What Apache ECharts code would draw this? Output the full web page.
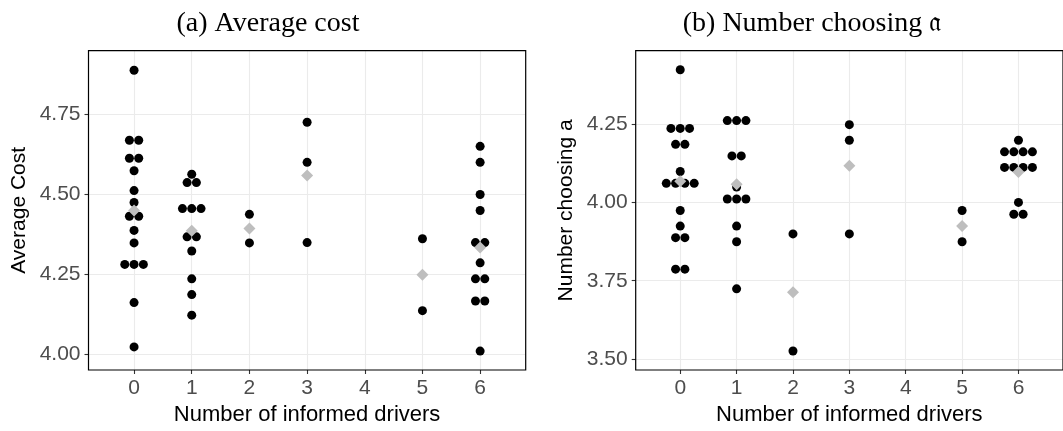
<!DOCTYPE html>
<html>
<head>
<meta charset="utf-8">
<script src="https://cdn.jsdelivr.net/npm/echarts@6/dist/echarts.min.js"></script>
<style>html,body{margin:0;padding:0;background:#fff}#c{width:1063px;height:431px}</style>
</head>
<body>
<div id="c"></div>
<script>
const categories = [0, 1, 2, 3, 5, 6];
const xTicks = [0, 1, 2, 3, 4, 5, 6];
const costTicks = [4.00, 4.25, 4.50, 4.75];
const chooseTicks = [3.50, 3.75, 4.00, 4.25];

const costDots = [
  [4.886, 4.668, 4.668, 4.612, 4.612, 4.573, 4.511, 4.474, 4.431, 4.431, 4.387, 4.348, 4.281, 4.281, 4.281, 4.162, 4.024],
  [4.562, 4.536, 4.536, 4.455, 4.455, 4.455, 4.367, 4.367, 4.323, 4.236, 4.187, 4.123],
  [4.437, 4.348],
  [4.724, 4.599, 4.349],
  [4.361, 4.137],
  [4.649, 4.599, 4.499, 4.449, 4.349, 4.349, 4.286, 4.236, 4.236, 4.167, 4.167, 4.011]
];
const costMeans = [4.449, 4.386, 4.393, 4.558, 4.249, 4.334];

const chooseDots = [
  [4.426, 4.238, 4.238, 4.238, 4.187, 4.187, 4.100, 4.062, 4.062, 4.062, 4.062, 3.975, 3.925, 3.888, 3.888, 3.787, 3.787],
  [4.263, 4.263, 4.263, 4.150, 4.150, 4.050, 4.012, 4.012, 4.012, 3.925, 3.875, 3.724],
  [3.900, 3.525],
  [4.250, 4.200, 3.900],
  [3.975, 3.875],
  [4.200, 4.163, 4.163, 4.163, 4.163, 4.113, 4.113, 4.113, 4.113, 4.001, 3.963, 3.963]
];
const chooseMeans = [4.069, 4.059, 3.713, 4.118, 3.925, 4.098];

const DOT_STEP = 9.3;
function dotItems(dots) {
  const out = [];
  dots.forEach((vals, ci) => {
    const counts = {};
    vals.forEach(v => { counts[v] = (counts[v] || 0) + 1; });
    const seen = {};
    vals.forEach(v => {
      const n = counts[v];
      const k = seen[v] || 0;
      seen[v] = k + 1;
      out.push({ value: [categories[ci], v], symbolOffset: [(k - (n - 1) / 2) * DOT_STEP, 0] });
    });
  });
  return out;
}
function meanItems(means) {
  return means.map((m, i) => [categories[i], m]);
}

const tickColor = '#4D4D4D';
const sans = '"Liberation Sans", Arial, sans-serif';
const serif = '"Liberation Serif", "DejaVu Serif", serif';

function xAxis(gi) {
  return {
    type: 'value', gridIndex: gi, min: -0.79, max: 6.79,
    name: 'Number of informed drivers', nameLocation: 'middle', nameGap: 34,
    nameTextStyle: { color: '#000', fontSize: 22, fontFamily: sans },
    axisLine: { show: false, onZero: false },
    axisTick: { show: true, length: 4, customValues: xTicks, lineStyle: { color: '#333', width: 1.1 } },
    axisLabel: { customValues: xTicks, color: tickColor, fontSize: 21, fontFamily: sans, margin: 8 },
    splitLine: { show: true, lineStyle: { color: '#EBEBEB', width: 1.1 } }
  };
}
function yAxis(gi, min, max, ticks, name) {
  return {
    type: 'value', gridIndex: gi, min: min, max: max,
    name: name, nameLocation: 'middle', nameGap: 59,
    nameTextStyle: { color: '#000', fontSize: 21, fontFamily: sans },
    axisLine: { show: false, onZero: false },
    axisTick: { show: true, length: 4, customValues: ticks, lineStyle: { color: '#333', width: 1.1 } },
    axisLabel: { customValues: ticks, color: tickColor, fontSize: 21, fontFamily: sans, margin: 8,
      formatter: v => v.toFixed(2) },
    splitLine: { show: true, lineStyle: { color: '#EBEBEB', width: 1.1 } }
  };
}

const chart = echarts.init(document.getElementById('c'), null, { renderer: 'canvas' });
chart.setOption({
  animation: false,
  backgroundColor: '#fff',
  title: [
    { text: '(a) Average cost', left: 263, top: 5, textAlign: 'center',
      textStyle: { fontFamily: serif, fontWeight: 'normal', fontSize: 28, color: '#000' } },
    { text: '(b) Number choosing \u{1D51E}', left: 807, top: 5, textAlign: 'center',
      textStyle: { fontFamily: serif, fontWeight: 'normal', fontSize: 28, color: '#000' } }
  ],
  grid: [
    { left: 88.5, top: 50.7, width: 437.2, height: 325, show: true, borderColor: '#000', borderWidth: 1.2, backgroundColor: 'transparent', z: 3 },
    { left: 635.7, top: 50.7, width: 437.2, height: 325, show: true, borderColor: '#000', borderWidth: 1.2, backgroundColor: 'transparent', z: 3 }
  ],
  xAxis: [xAxis(0), xAxis(1)],
  yAxis: [
    yAxis(0, 3.952, 4.947, costTicks, 'Average Cost'),
    yAxis(1, 3.464, 4.487, chooseTicks, 'Number choosing a')
  ],
  series: [
    { type: 'scatter', xAxisIndex: 0, yAxisIndex: 0, symbol: 'circle', symbolSize: 9,
      itemStyle: { color: '#000', opacity: 1 }, data: dotItems(costDots), z: 4 },
    { type: 'scatter', xAxisIndex: 0, yAxisIndex: 0, symbol: 'diamond', symbolSize: [12, 12],
      itemStyle: { color: '#BEBEBE', opacity: 1 }, data: meanItems(costMeans), z: 5 },
    { type: 'scatter', xAxisIndex: 1, yAxisIndex: 1, symbol: 'circle', symbolSize: 9,
      itemStyle: { color: '#000', opacity: 1 }, data: dotItems(chooseDots), z: 4 },
    { type: 'scatter', xAxisIndex: 1, yAxisIndex: 1, symbol: 'diamond', symbolSize: [12, 12],
      itemStyle: { color: '#BEBEBE', opacity: 1 }, data: meanItems(chooseMeans), z: 5 }
  ]
});
</script>
</body>
</html>
